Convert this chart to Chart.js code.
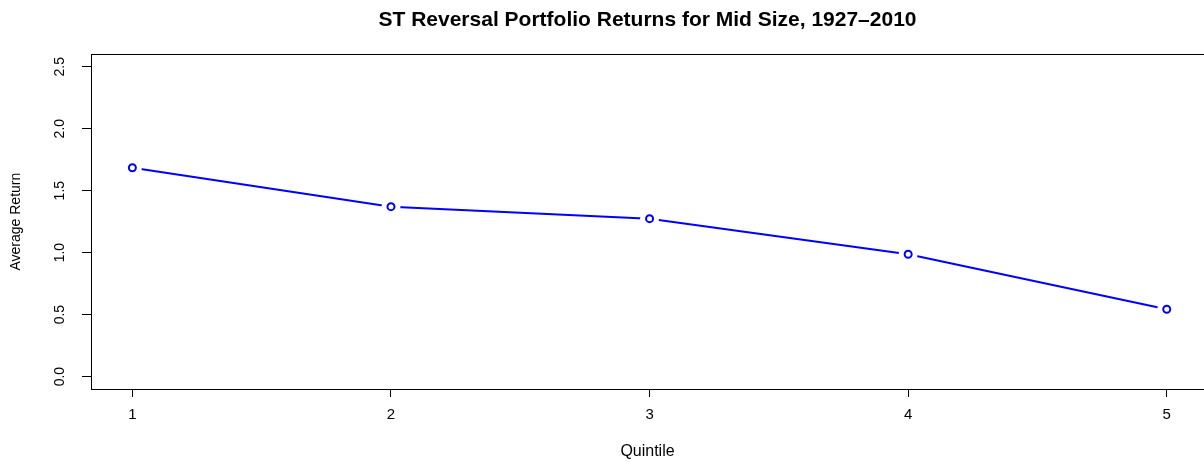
<!DOCTYPE html>
<html>
<head>
<meta charset="utf-8">
<script src="https://cdn.jsdelivr.net/npm/chart.js@4/dist/chart.umd.min.js"></script>
<style>
  html, body { margin: 0; padding: 0; background: #fff; overflow: hidden; }
</style>
</head>
<body>
<canvas id="myLineChart" width="1204" height="462"></canvas>
<script>
// values
const quintiles = [1, 2, 3, 4, 5];
const avgReturns = [1.685, 1.371, 1.274, 0.987, 0.543];
const yTickValues = [0, 0.5, 1, 1.5, 2, 2.5];

const chartTitle = 'ST Reversal Portfolio Returns for Mid Size, 1927\u20132010';
const xTitle = 'Quintile';
const yTitle = 'Average Return';

const FONT = '"Liberation Sans", Arial, Helvetica, sans-serif';
const BLUE = '#0000ff';

const buildPoints = () => {
  let pts = [];
  for (let i = 0; i < quintiles.length; i++) {
    pts.push({ x: quintiles[i], y: avgReturns[i] });
  }
  return pts;
};

// box around the plot region, like R's box(); right side falls off the picture
const boxPlugin = {
  id: 'boxPlugin',
  afterDraw(chart) {
    const { ctx, chartArea } = chart;
    ctx.save();
    ctx.strokeStyle = '#000';
    ctx.lineWidth = 1;
    ctx.strokeRect(Math.round(chartArea.left) + 0.5, Math.round(chartArea.top) + 0.5,
      Math.round(chartArea.right - chartArea.left) + 4, Math.round(chartArea.bottom - chartArea.top));
    ctx.restore();
  }
};

// y tick labels written parallel to the axis
const yLabelsPlugin = {
  id: 'yLabelsPlugin',
  afterDraw(chart) {
    const { ctx } = chart;
    const yScale = chart.scales.y;
    ctx.save();
    ctx.fillStyle = '#000';
    ctx.font = '14px ' + FONT;
    ctx.textAlign = 'center';
    ctx.textBaseline = 'middle';
    yScale.ticks.forEach(t => {
      const py = yScale.getPixelForValue(t.value);
      ctx.save();
      ctx.translate(60, py);
      ctx.rotate(-Math.PI / 2);
      ctx.fillText(t.value.toFixed(1), 0, 0);
      ctx.restore();
    });
    ctx.restore();
  }
};

const pts = buildPoints();
const ctx = document.getElementById('myLineChart').getContext('2d');
const myLineChart = new Chart(ctx, {
  type: 'line',
  data: {
    datasets: [
      { // the connecting line
        data: pts,
        borderColor: BLUE,
        borderWidth: 2,
        pointRadius: 0,
        fill: false,
        tension: 0,
        order: 3
      },
      { // white gaps round each point (type = "b")
        data: pts,
        showLine: false,
        pointRadius: 9.5,
        pointBorderWidth: 0,
        pointBackgroundColor: '#fff',
        pointBorderColor: '#fff',
        order: 2
      },
      { // open circles
        data: pts,
        showLine: false,
        pointRadius: 3.5,
        pointBorderWidth: 2,
        pointBorderColor: BLUE,
        pointBackgroundColor: '#fff',
        order: 1
      }
    ]
  },
  options: {
    responsive: false,
    animation: false,
    events: [],
    layout: { autoPadding: false, padding: { left: 0, right: 0, top: 0, bottom: 0 } },
    plugins: {
      legend: { display: false },
      tooltip: { enabled: false },
      title: {
        display: true,
        fullSize: false,   // centre over the plot region, not the canvas
        text: chartTitle,
        color: '#000',
        font: { family: FONT, size: 21, weight: 'bold' },
        padding: { top: 7.2, bottom: 21.9 }
      }
    },
    scales: {
      x: {
        type: 'linear',
        min: 0.84,
        max: 5.144,
        afterBuildTicks: (scale) => { scale.ticks = quintiles.map(v => ({ value: v })); },
        afterFit: (scale) => {
          scale.height = 73;
          scale.paddingLeft = 0;
          scale.paddingRight = 0;
        },
        border: { display: false },
        grid: { drawOnChartArea: false, drawTicks: true, tickLength: 8, color: '#000', lineWidth: 1 },
        ticks: {
          color: '#000',
          font: { family: FONT, size: 15 },
          padding: 9,
          maxRotation: 0,
          autoSkip: false,
          callback: (v) => String(v)
        },
        title: {
          display: true,
          text: xTitle,
          color: '#000',
          font: { family: FONT, size: 16 },
          padding: { top: 0, bottom: 1 }
        }
      },
      y: {
        type: 'linear',
        min: -0.1,
        max: 2.6,
        afterBuildTicks: (scale) => { scale.ticks = yTickValues.map(v => ({ value: v })); },
        afterFit: (scale) => { scale.width = 91; },
        border: { display: false },
        grid: { drawOnChartArea: false, drawTicks: true, tickLength: 9, color: '#000', lineWidth: 1 },
        ticks: { display: false },
        title: {
          display: true,
          text: yTitle,
          color: '#000',
          font: { family: FONT, size: 14 },
          padding: { top: 8, bottom: 0 }
        }
      }
    }
  },
  plugins: [boxPlugin, yLabelsPlugin]
});
</script>
</body>
</html>
